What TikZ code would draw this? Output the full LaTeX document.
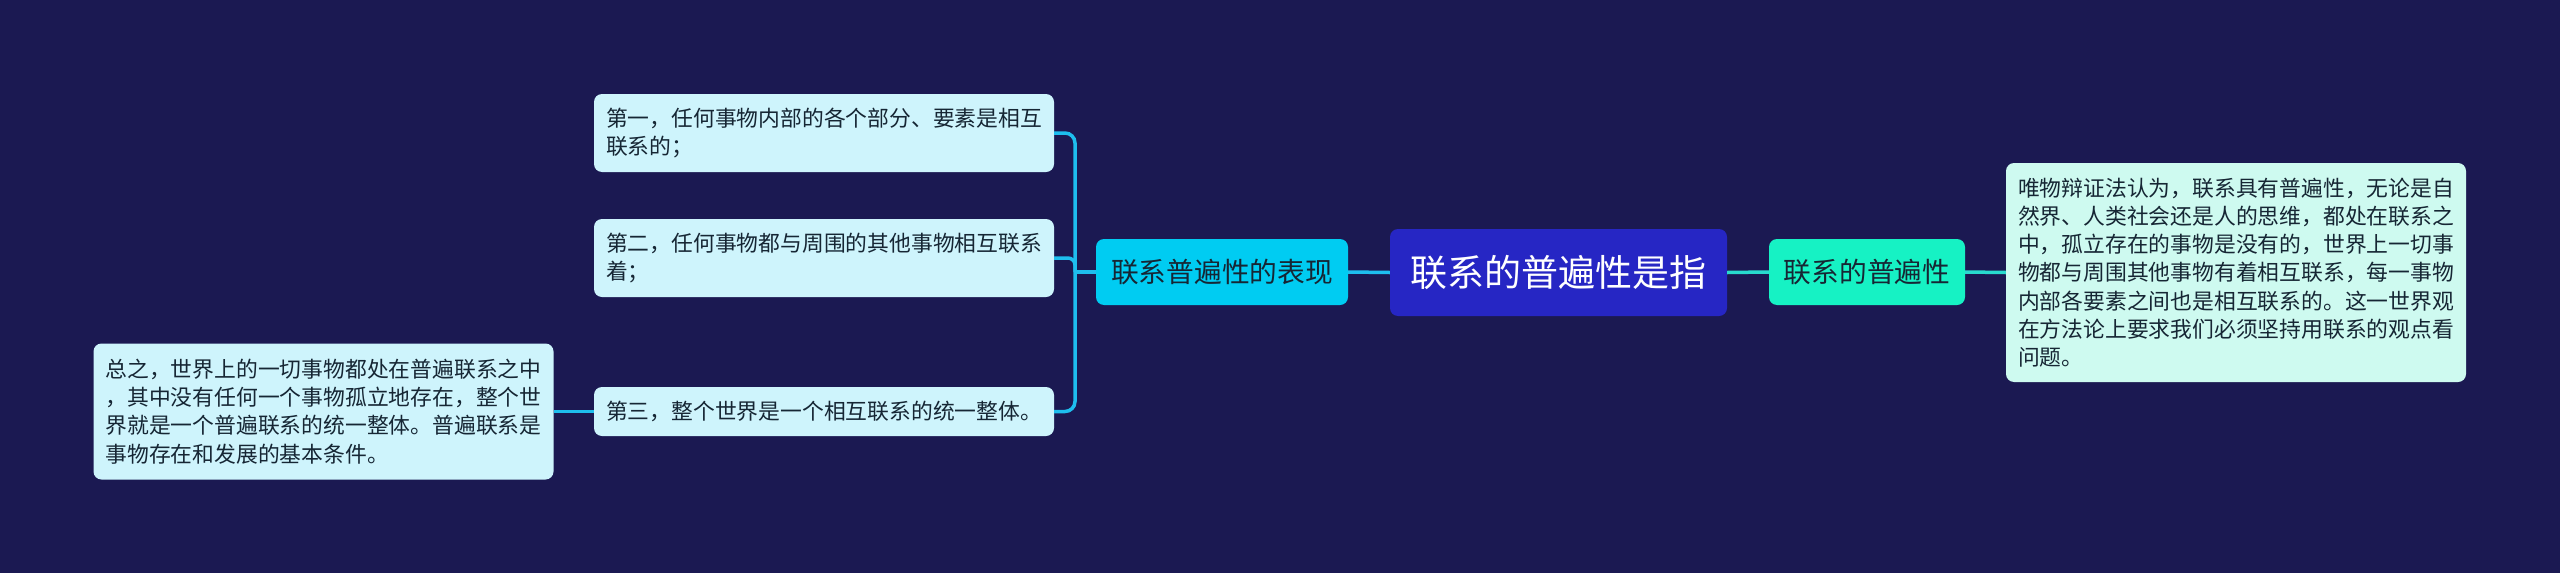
\documentclass[tikz,border=0pt]{standalone}
\usepackage{fontspec}
\setmainfont{Noto Sans CJK SC}
\definecolor{bg}{RGB}{27,25,82}
\definecolor{rootfill}{RGB}{38,38,196}
\definecolor{midLfill}{RGB}{0,204,242}
\definecolor{midRfill}{RGB}{22,242,196}
\definecolor{leafLfill}{RGB}{206,244,252}
\definecolor{leafRfill}{RGB}{206,250,240}
\definecolor{connLc}{RGB}{30,190,238}
\definecolor{connRc}{RGB}{40,218,206}
\definecolor{darktxt}{RGB}{22,38,52}
\tikzset{
  box/.style={rounded corners=8pt, inner ysep=0pt, align=center, text=darktxt},
  rootbox/.style={box, fill=rootfill, text=white, minimum width=337pt, minimum height=87pt,
    font=\fontsize{37pt}{44pt}\selectfont},
  midbox/.style={box, minimum height=66pt, inner xsep=14pt, font=\fontsize{27.7pt}{33pt}\selectfont},
  leafbox/.style={box, text width=436pt, inner xsep=12pt, align=left,
    font=\fontsize{21.8pt}{28.2pt}\selectfont},
  connL/.style={draw=connLc, line width=3.5pt},
  connR/.style={draw=connRc, line width=3.5pt}
}
\begin{document}
\begin{tikzpicture}[x=1pt,y=-1pt]
\fill[bg] (0,0) rectangle (2560,573);
\useasboundingbox (0,0) rectangle (2560,573);

\node[rootbox] (root) at (1558.5,272.5) {联系的普遍性是指};
\node[midbox, fill=midLfill, minimum width=252pt] (ml) at (1222,272) {联系普遍性的表现};
\node[midbox, fill=midRfill, minimum width=196pt] (mr) at (1867,272) {联系的普遍性};

\node[leafbox, fill=leafLfill, minimum height=78pt] (l1) at (824,133)
  {第一，任何事物内部的各个部分、要素是相互\\联系的；};
\node[leafbox, fill=leafLfill, minimum height=78pt] (l2) at (824,258)
  {第二，任何事物都与周围的其他事物相互联系\\着；};
\node[leafbox, fill=leafLfill, minimum height=49pt] (l3) at (824,411.5)
  {第三，整个世界是一个相互联系的统一整体。};
\node[leafbox, fill=leafLfill, minimum height=136pt] (far) at (323.5,411.5)
  {总之，世界上的一切事物都处在普遍联系之中\\，其中没有任何一个事物孤立地存在，整个世\\界就是一个普遍联系的统一整体。普遍联系是\\事物存在和发展的基本条件。};
\node[leafbox, fill=leafRfill, minimum height=219pt] (rl) at (2236,272.5)
  {唯物辩证法认为，联系具有普遍性，无论是自\\然界、人类社会还是人的思维，都处在联系之\\中，孤立存在的事物是没有的，世界上一切事\\物都与周围其他事物有着相互联系，每一事物\\内部各要素之间也是相互联系的。这一世界观\\在方法论上要求我们必须坚持用联系的观点看\\问题。};

\coordinate (jL) at (1075,272);
\draw[connL, rounded corners=10pt] (l1.east) -| (jL) |- (l3.east);
\draw[connL, rounded corners=7pt] (l2.east) -| (jL);
\draw[connL] (jL) -- (ml.west);
\draw[connL] (ml.east) -- (root.west);
\draw[connL] (far.east) -- (l3.west);
\draw[connR] (root.east) -- (mr.west);
\draw[connR] (mr.east) -- (rl.west);
\end{tikzpicture}
\end{document}
